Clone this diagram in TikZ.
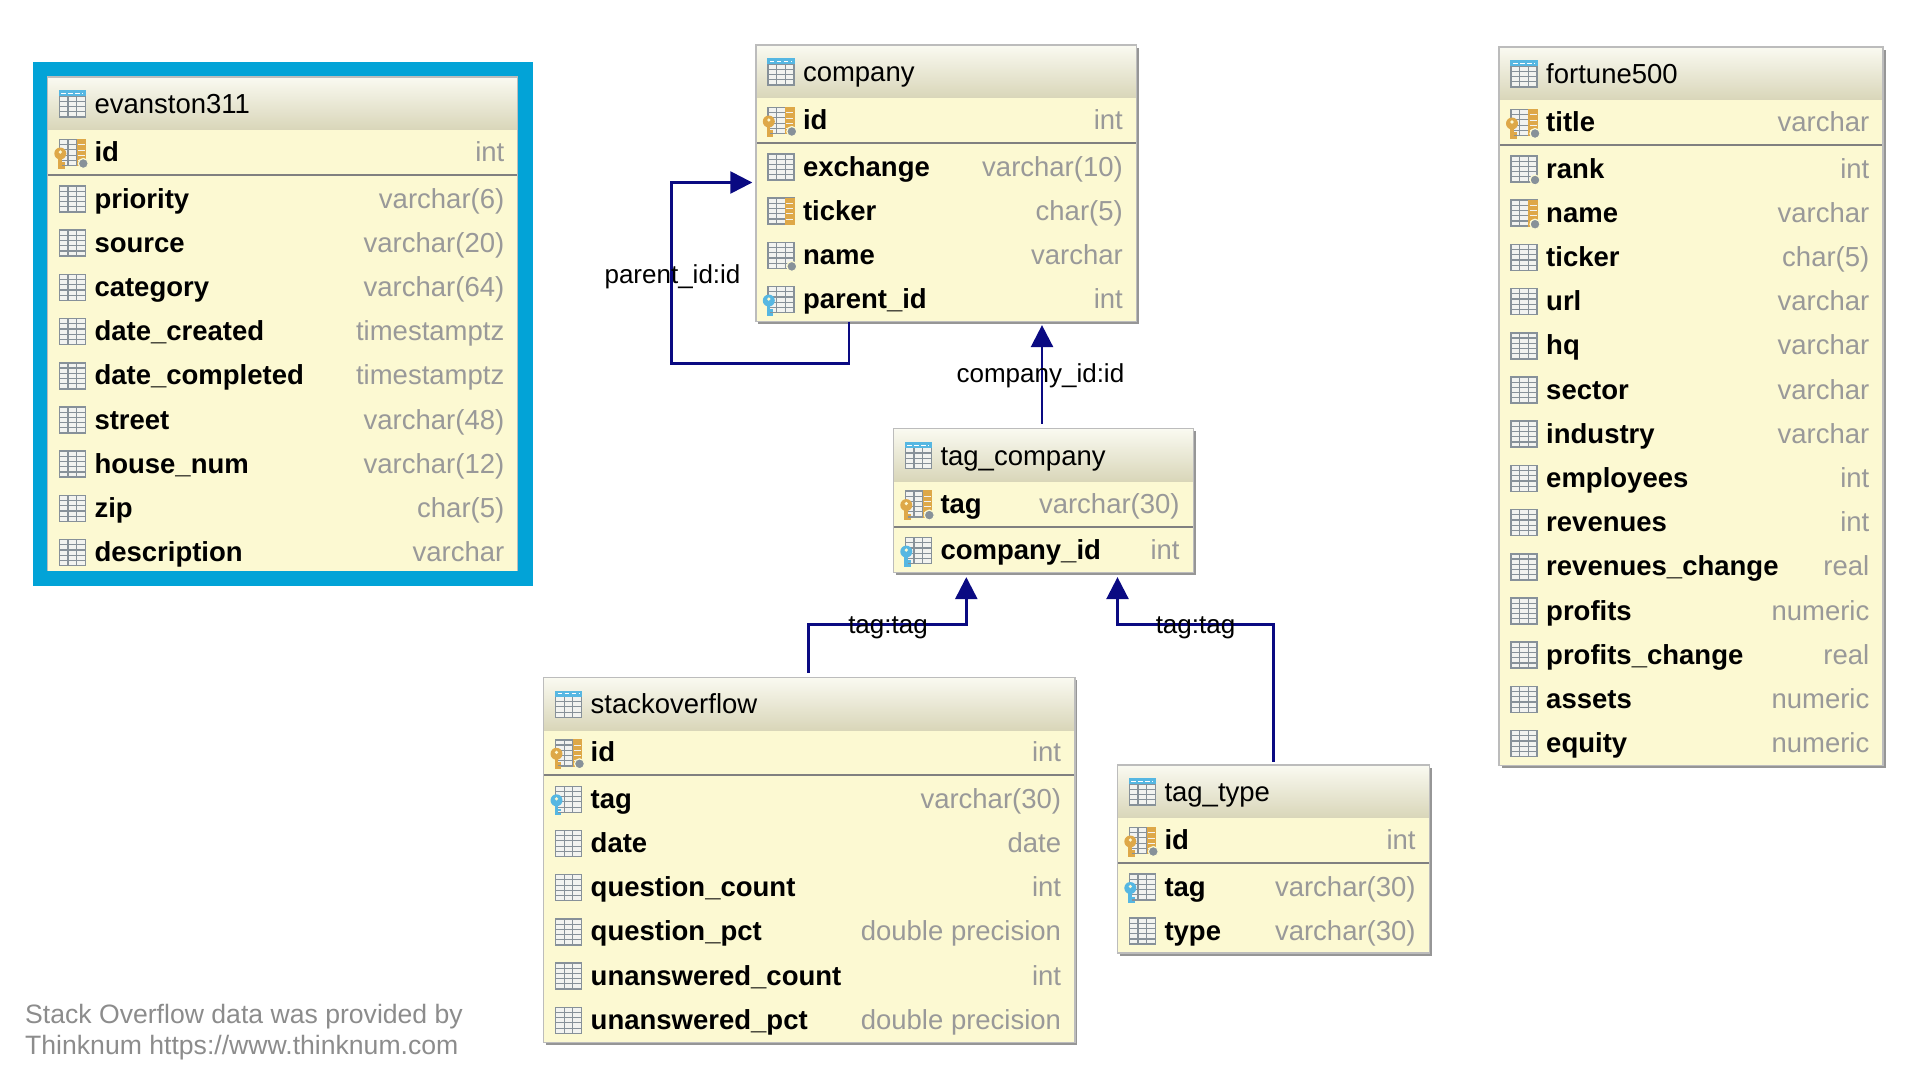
\documentclass[tikz,border=0pt]{standalone}
\usepackage{fontspec}
\setmainfont{Liberation Sans}
\usetikzlibrary{arrows.meta,calc}

\definecolor{hdtop}{RGB}{250,250,241}
\definecolor{hdbot}{RGB}{217,214,185}
\definecolor{rowfill}{RGB}{252,249,210}
\definecolor{tblline}{RGB}{188,188,188}
\definecolor{tblshadow}{RGB}{150,150,150}
\definecolor{sepgray}{RGB}{128,128,128}
\definecolor{typegray}{RGB}{153,153,153}
\definecolor{relnavy}{RGB}{10,10,130}
\definecolor{hlblue}{RGB}{2,163,215}
\definecolor{icongray}{RGB}{135,145,153}
\definecolor{iconfill}{RGB}{242,243,240}
\definecolor{keygold}{RGB}{222,168,72}
\definecolor{keyblue}{RGB}{86,183,226}
\definecolor{notegray}{RGB}{140,140,140}

% key drawn inside a 26x26 icon, y pointing down
\newcommand\keyshape[1]{%
  \fill[#1] (-12,1) circle (6);
  \fill[#1] (-14,3) rectangle (-10.5,16);
  \fill[#1] (-10.5,9.5) rectangle (-7.5,12);
  \fill[#1] (-10.5,13.5) rectangle (-7.5,16);
  \fill[rowfill] (-12,-0.5) circle (1.8);
}

\tikzset{
  colicon/.pic={
    \draw[icongray, fill=iconfill, line width=1.5] (-13,-13) rectangle (13,13);
    \draw[icongray, line width=1.1] (-4.3,-13) -- (-4.3,13) (4.3,-13) -- (4.3,13);
    \foreach \r in {-7.8,-2.6,2.6,7.8}
      \draw[icongray, line width=1.1] (-13,\r) -- (13,\r);
  },
  tblicon/.pic={
    \pic {colicon};
    \fill[keyblue] (-13.7,-13.7) rectangle (13.7,-7.8);
    \draw[white, line width=1, dash pattern=on 4.5 off 2.5] (-11,-10.6) -- (11,-10.6);
  },
  idxicon/.pic={
    \pic {colicon};
    \fill[keygold] (4.3,-13.7) rectangle (13.7,13.7);
    \foreach \r in {-7.8,-2.6,2.6,7.8}
      \draw[iconfill, line width=0.8] (5.5,\r) -- (12.5,\r);
  },
  doticon/.pic={
    \pic {colicon};
    \filldraw[fill=icongray, draw=rowfill, line width=1.2] (11,11) circle (5);
  },
  idxdoticon/.pic={
    \pic {idxicon};
    \filldraw[fill=icongray, draw=rowfill, line width=1.2] (11,11) circle (5);
  },
  pkicon/.pic={
    \pic {idxdoticon};
    \keyshape{keygold}
  },
  fkicon/.pic={
    \pic {colicon};
    \keyshape{keyblue}
  },
}

% #1 node, #2 title, #3 left, #4 top, #5 right, #6 columns, #7/#8 key row, #9 columns
\newcommand\dbtable[9]{%
  \pgfmathsetmacro\tblbot{#4+144+44.2*(#6-1)}
  \fill[tblshadow] (#3+2.5,#4+2.5) rectangle (#5+2.5,\tblbot+2.5);
  \node[tablebox, minimum width={#5-#3}, minimum height={\tblbot-#4}] (#1) at (#3,#4) {};
  \shade[top color=hdtop, bottom color=hdbot] (#3,#4) rectangle (#5,#4+52.7);
  \draw[sepgray, line width=2] (#3,#4+98) -- (#5,#4+98);
  \draw[tblline, line width=1.5] (#1.north west) rectangle (#1.south east);
  \pic at (#3+25,#4+27) {tblicon};
  \node[tbltitle] (#1-title) at (#3+47,#4+27.6) {#2};
  \pic at (#3+25,#4+75.5) {pkicon};
  \node[colname] (#1-key) at (#3+47,#4+75.5) {#7};
  \node[coltype] (#1-keytype) at (#5-13.5,#4+75.5) {#8};
  \foreach \ic/\nm/\ty [count=\i from 0] in {#9} {
    \pgfmathsetmacro\yy{#4+122+44.2*\i}
    \edef\rowpic{\noexpand\pic at (#3+25,\yy) {\ic icon};}\rowpic
    \node[colname] (#1-row\i) at (#3+47,\yy) {\nm};
    \node[coltype] (#1-type\i) at (#5-13.5,\yy) {\ty};
  }
}

\begin{document}
\begin{tikzpicture}
    [x=1pt,y=-1pt,
     tablebox/.style={rectangle, anchor=north west, fill=rowfill, inner sep=0pt, outer sep=0pt},
     tbltitle/.style={anchor=west, inner sep=0pt, yshift=-2pt, text height=20, text depth=6, font=\fontsize{27.5}{33}\selectfont},
     colname/.style={anchor=west, inner sep=0pt, yshift=-2pt, text height=20, text depth=6, font=\fontsize{27.5}{33}\selectfont\bfseries},
     coltype/.style={anchor=east, inner sep=0pt, yshift=-2pt, text height=20, text depth=6, text=typegray, font=\fontsize{27.5}{33}\selectfont},
     rel/.style={draw=relnavy, line width=2.5, -{Triangle[length=22,width=22]}},
     rellabel/.style={inner sep=0pt, text height=19, text depth=5.5, font=\fontsize{26}{31}\selectfont},
     selframe/.style={draw=hlblue, line width=14.6},
     note/.style={anchor=west, align=left, inner sep=0pt, text=notegray, font=\fontsize{26.6}{31.7}\selectfont}]
  \useasboundingbox (0,0) rectangle (1926,1084);

  \dbtable{evanston}{evanston311}{47.3}{77}{518}{9}{id}{int}
    {col/priority/varchar(6), col/source/varchar(20), col/category/varchar(64),
     col/date\_created/timestamptz, col/date\_completed/timestamptz, col/street/varchar(48),
     col/house\_num/varchar(12), col/zip/char(5), col/description/varchar}
  \draw[selframe] ($(evanston.north west)+(-7.3,-8.2)$) rectangle ($(evanston.south east)+(7.4,3.9)$);

  \dbtable{company}{company}{755.8}{45}{1136.5}{4}{id}{int}
    {col/exchange/varchar(10), idx/ticker/char(5), dot/name/varchar, fk/parent\_id/int}

  \dbtable{fortune}{fortune500}{1499}{47}{1883}{14}{title}{varchar}
    {dot/rank/int, idxdot/name/varchar, col/ticker/char(5), col/url/varchar, col/hq/varchar,
     col/sector/varchar, col/industry/varchar, col/employees/int, col/revenues/int,
     col/revenues\_change/real, col/profits/numeric, col/profits\_change/real,
     col/assets/numeric, col/equity/numeric}

  \dbtable{tagcompany}{tag\_company}{893.3}{428.6}{1193.3}{1}{tag}{varchar(30)}
    {fk/company\_id/int}

  \dbtable{stackoverflow}{stackoverflow}{543.5}{677.3}{1074.8}{6}{id}{int}
    {fk/tag/varchar(30), col/date/date, col/question\_count/int,
     col/question\_pct/double precision, col/unanswered\_count/int,
     col/unanswered\_pct/double precision}

  \dbtable{tagtype}{tag\_type}{1117.3}{765}{1429.3}{2}{id}{int}
    {fk/tag/varchar(30), col/type/varchar(30)}

  % relations
  \draw[rel] ($(company.south west)+(93.4,0)$) -- ++(0,41.8) -- ++(-177.5,0)
    |- ($(company.north west)+(-3.5,137.5)$);
  \draw[rel] ($(tagcompany.north west)+(148.7,-5)$) -- ($(company.south west)+(286.2,3.5)$);
  \draw[rel] ($(stackoverflow.north west)+(265,-4.5)$) -- ++(0,-48.5)
    -| ($(tagcompany.south west)+(73,4.5)$);
  \draw[rel] ($(tagtype.north west)+(156,-3.5)$) -- ++(0,-137)
    -| ($(tagcompany.south west)+(224.2,4.5)$);

  \node[rellabel] (lparent) at (672.5,277) {parent\_id:id};
  \node[rellabel] (lcompany) at (1040.4,376) {company\_id:id};
  \node[rellabel] (ltagso) at (888,627) {tag:tag};
  \node[rellabel] (ltagtype) at (1195.5,627) {tag:tag};

  \node[note] (credit) at (25,1032) {Stack Overflow data was provided by\\Thinknum https://www.thinknum.com};
\end{tikzpicture}
\end{document}
